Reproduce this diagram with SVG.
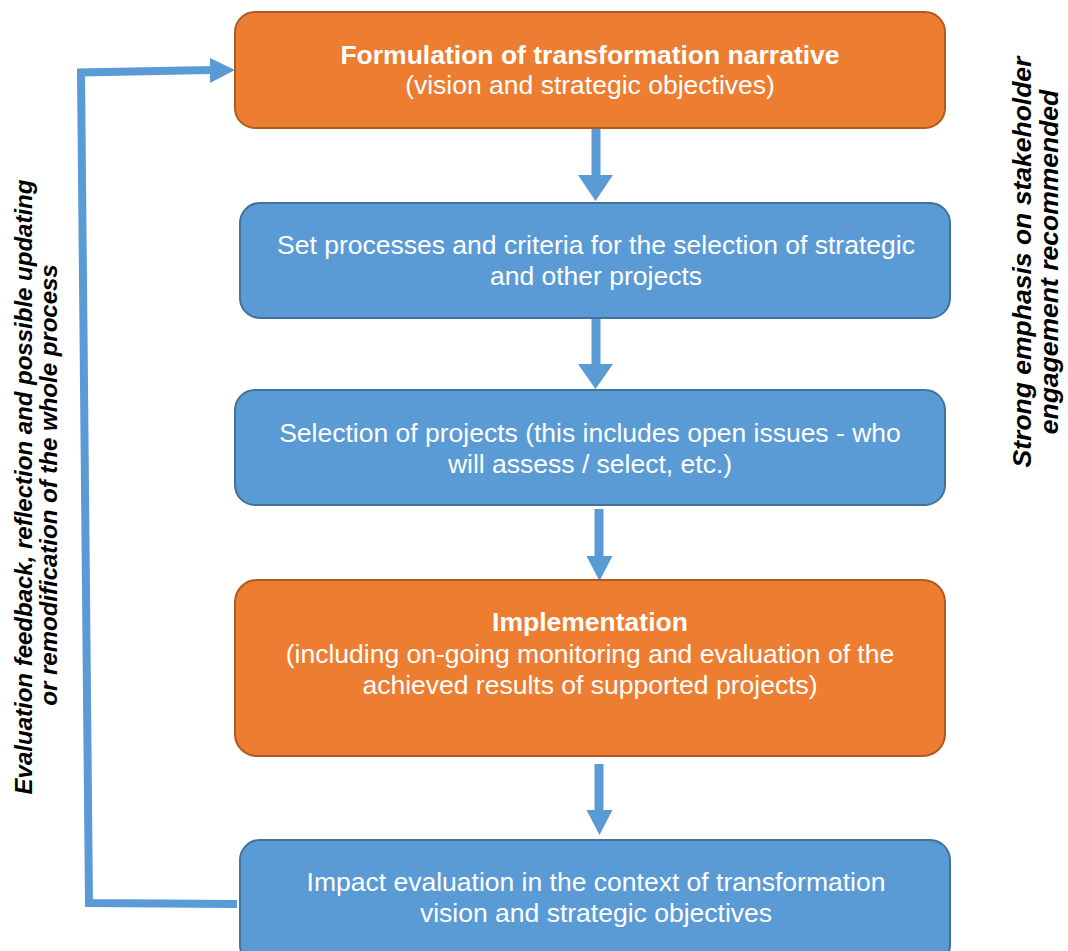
<svg xmlns="http://www.w3.org/2000/svg" width="1068" height="951" viewBox="0 0 1068 951">
  <style>
    .orange { fill: #ED7D31; stroke: #AE5A21; stroke-width: 2; }
    .blue { fill: #5B9BD5; stroke: #41719C; stroke-width: 2; }
    .t { font-family: "Liberation Sans", Arial, sans-serif; font-size: 26.5px; fill: #FFFFFF; text-anchor: middle; }
    .b { font-weight: bold; }
    .side { font-family: "Liberation Sans", Arial, sans-serif; font-weight: bold; font-style: italic; fill: #000000; text-anchor: middle; }
    .flow { fill: #5B9BD5; }
    .loop { fill: none; stroke: #5B9BD5; stroke-width: 8; stroke-linejoin: miter; }
  </style>

  <g id="connectors">
    <!-- downward arrows between steps -->
    <path class="flow" d="M591.5,128 h9 v47 h12.5 l-17.5,26 l-17.5,-26 h13.5 z"/>
    <path class="flow" d="M591.5,318 h9 v46 h12.5 l-17.5,25 l-17.5,-25 h13.5 z"/>
    <path class="flow" d="M594.5,509 h9 v47 h9 l-13,25 l-13,-25 h8 z"/>
    <path class="flow" d="M594.5,764 h9 v46 h9 l-13,25 l-13,-25 h8 z"/>
    <!-- feedback loop from impact evaluation back to the narrative -->
    <path class="loop" d="M237,904 L89,903 L81,72.5 L212,70"/>
    <path class="flow" d="M210,58 L235,70 L210,83 z"/>
  </g>

  <g id="node-narrative">
    <rect class="orange" x="235" y="12" width="710" height="116" rx="20"/>
    <text class="t b" x="590" y="64">Formulation of transformation narrative</text>
    <text class="t" x="590" y="94">(vision and strategic objectives)</text>
  </g>

  <g id="node-criteria">
    <rect class="blue" x="240" y="203" width="710" height="115" rx="20"/>
    <text class="t" x="596" y="254">Set processes and criteria for the selection of strategic</text>
    <text class="t" x="596" y="285">and other projects</text>
  </g>

  <g id="node-selection">
    <rect class="blue" x="235" y="390" width="710" height="115" rx="20"/>
    <text class="t" x="590" y="442">Selection of projects (this includes open issues - who</text>
    <text class="t" x="590" y="473">will assess / select, etc.)</text>
  </g>

  <g id="node-implementation">
    <rect class="orange" x="235" y="580" width="710" height="176" rx="22"/>
    <text class="t b" x="590" y="631">Implementation</text>
    <text class="t" x="590" y="663">(including on-going monitoring and evaluation of the</text>
    <text class="t" x="590" y="694">achieved results of supported projects)</text>
  </g>

  <g id="node-impact">
    <rect class="blue" x="240" y="840" width="710" height="125" rx="20"/>
    <text class="t" x="596" y="891">Impact evaluation in the context of transformation</text>
    <text class="t" x="596" y="922">vision and strategic objectives</text>
  </g>

  <g id="label-feedback">
    <text class="side" font-size="24" transform="translate(32,487) rotate(-90)">Evaluation feedback, reflection and possible updating</text>
    <text class="side" font-size="24" transform="translate(57,485) rotate(-90)">or remodification of the whole process</text>
  </g>

  <g id="label-stakeholder">
    <text class="side" font-size="26.5" transform="translate(1031,262) rotate(-90)">Strong emphasis on stakeholder</text>
    <text class="side" font-size="26.5" transform="translate(1058,262) rotate(-90)">engagement recommended</text>
  </g>
</svg>
